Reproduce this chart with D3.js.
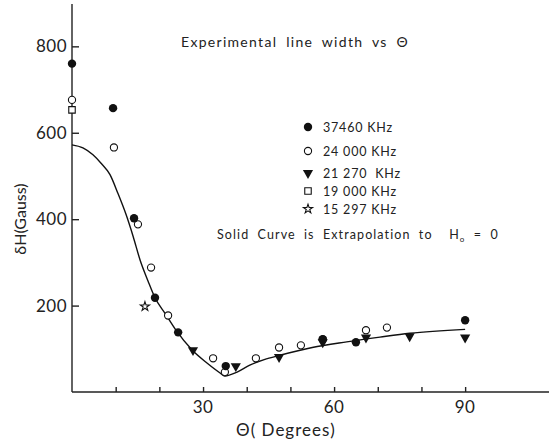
<!DOCTYPE html>
<html>
<head>
<meta charset="utf-8">
<script src="https://cdn.jsdelivr.net/npm/d3@7"></script>
<style>
  body { margin: 0; background: #fff; }
  svg { font-family: "Lato", "DejaVu Sans", sans-serif; }
</style>
</head>
<body>
<svg width="549" height="440"></svg>
<script>
// data (theta in degrees, dH in gauss)
var f37460 = [[0,760],[9.4,657],[14.2,402],[19,218],[24.3,138],[35.2,60],[57.4,122],[65,115],[90,166]];
var f24000 = [[0,676],[9.6,566],[15.1,388],[18.1,288],[22,177],[32.3,78],[35,46],[42.1,78],[47.4,103],[52.4,108],[57.4,122],[67.3,143],[72.1,149]];
var f21270 = [[27.7,97],[37.5,60],[47.4,81],[57.4,115],[67.3,126],[77.3,129],[90,126]];
var f19000 = [[0,653]];
var f15297 = [[16.7,198]];
var curve = [[0,572],[2.5,565],[4.8,549],[6.6,530],[8.7,503],[10.5,460],[12.4,410],[14,360],[15.6,305],[17.4,257],[19,218],[21.3,182],[23.8,143],[27.5,97],[30.9,67],[33.9,44],[35,37],[37.8,46],[40.7,62],[44,75],[47.6,85],[55,103],[62.9,116],[70.5,127],[77.3,136],[90,145]];

var yTicks = [200,400,600,800];
var xTicks = [10,20,30,40,50,60,70,80,90];
var xLabels = [30,60,90];
var legend = ["37460 KHz","24 000 KHz","21 270  KHz","19 000 KHz","15 297 KHz"];

var svg = d3.select("svg");

var x = d3.scaleLinear().domain([0,109.2]).range([72,549]);
var y = d3.scaleLinear().domain([0,898]).range([392,4]);

// axes
svg.append("g")
  .attr("transform","translate(0,392)")
  .call(d3.axisTop(x).tickValues(xTicks).tickSize(5).tickFormat(""))
  .call(g => g.select(".domain").attr("d","M" + x(0) + ",0H549"))
  .call(g => g.selectAll("path,line").attr("stroke","#222").attr("stroke-width",1.4));

svg.append("g")
  .attr("transform","translate(72,0)")
  .call(d3.axisRight(y).tickValues(yTicks).tickSize(7).tickFormat(""))
  .call(g => g.select(".domain").attr("d","M0," + y(0) + "V4"))
  .call(g => g.selectAll("path,line").attr("stroke","#222").attr("stroke-width",1.4));

svg.selectAll(".ylab").data(yTicks).enter().append("text")
  .attr("x",67).attr("y",d => y(d)+6)
  .attr("text-anchor","end").attr("font-size",17).attr("fill","#222")
  .attr("letter-spacing",0.5)
  .text(d => d);

svg.selectAll(".xlab").data(xLabels).enter().append("text")
  .attr("x",d => x(d)).attr("y",413)
  .attr("text-anchor","middle").attr("font-size",17).attr("fill","#222")
  .attr("letter-spacing",0.5)
  .text(d => d);

svg.append("text")
  .attr("x",286).attr("y",436).attr("text-anchor","middle")
  .attr("font-size",17).attr("fill","#222")
  .attr("letter-spacing",1)
  .text("\u0398( Degrees)");

svg.append("text")
  .attr("transform","translate(26,219) rotate(-90)")
  .attr("text-anchor","middle").attr("font-size",16).attr("fill","#222")
  .text("\u03b4H(Gauss)");

svg.append("text")
  .attr("x",181).attr("y",47)
  .attr("font-size",14).attr("fill","#222")
  .attr("letter-spacing",1.3).attr("word-spacing",4)
  .text("Experimental line width vs \u0398");

// curve
var line = d3.line()
  .x(d => x(d[0])).y(d => y(d[1]))
  .curve(d3.curveMonotoneX);
svg.append("path").datum(curve)
  .attr("d",line).attr("fill","none").attr("stroke","#111").attr("stroke-width",1.4);

// markers
var tri = d3.symbol().type(d3.symbolTriangle).size(45);
var sq = d3.symbol().type(d3.symbolSquare).size(42);
var star = d3.symbol().type(d3.symbolStar).size(26);

function openCircles(g, data){
  g.selectAll("circle.o").data(data).enter().append("circle")
    .attr("cx",d => x(d[0])).attr("cy",d => y(d[1])).attr("r",3.6)
    .attr("fill","#fff").attr("stroke","#111").attr("stroke-width",1.1);
}
function filledCircles(g, data){
  g.selectAll("circle.f").data(data).enter().append("circle")
    .attr("cx",d => x(d[0])).attr("cy",d => y(d[1])).attr("r",4.2)
    .attr("fill","#111");
}
function triangles(g, data){
  g.selectAll("path.t").data(data).enter().append("path")
    .attr("d",tri)
    .attr("transform",d => "translate(" + x(d[0]) + "," + y(d[1]) + ") rotate(180)")
    .attr("fill","#111");
}
function squares(g, data){
  g.selectAll("path.s").data(data).enter().append("path")
    .attr("d",sq)
    .attr("transform",d => "translate(" + x(d[0]) + "," + y(d[1]) + ")")
    .attr("fill","#fff").attr("stroke","#111").attr("stroke-width",1.1);
}
function stars(g, data){
  g.selectAll("path.st").data(data).enter().append("path")
    .attr("d",star)
    .attr("transform",d => "translate(" + x(d[0]) + "," + y(d[1]) + ")")
    .attr("fill","#fff").attr("stroke","#111").attr("stroke-width",1.1);
}

var pts = svg.append("g");
openCircles(pts.append("g"), f24000);
filledCircles(pts.append("g"), f37460);
triangles(pts.append("g"), f21270);
squares(pts.append("g"), f19000);
stars(pts.append("g"), f15297);

// legend
var legY = [127,151,173,191,209];
var lg = svg.append("g");
filledCircles(lg.append("g"), [[x.invert(308), y.invert(legY[0])]]);
openCircles(lg.append("g"), [[x.invert(308), y.invert(legY[1])]]);
triangles(lg.append("g"), [[x.invert(308), y.invert(legY[2])]]);
squares(lg.append("g"), [[x.invert(308), y.invert(legY[3])]]);
stars(lg.append("g"), [[x.invert(308), y.invert(legY[4])]]);

lg.selectAll("text").data(legend).enter().append("text")
  .attr("x",323).attr("y",(d,i) => legY[i]+4.5)
  .attr("font-size",12.5).attr("fill","#222")
  .attr("letter-spacing",0.8)
  .attr("xml:space","preserve")
  .text(d => d);

var note = svg.append("text")
  .attr("x",217).attr("y",239)
  .attr("font-size",12.5).attr("fill","#222")
  .attr("letter-spacing",1.1).attr("word-spacing",4)
  .attr("xml:space","preserve");
note.append("tspan").text("Solid Curve is Extrapolation to  H");
note.append("tspan").attr("font-size",8).attr("dy",3).text("o");
note.append("tspan").attr("dy",-3).text(" = 0");
</script>
</body>
</html>
